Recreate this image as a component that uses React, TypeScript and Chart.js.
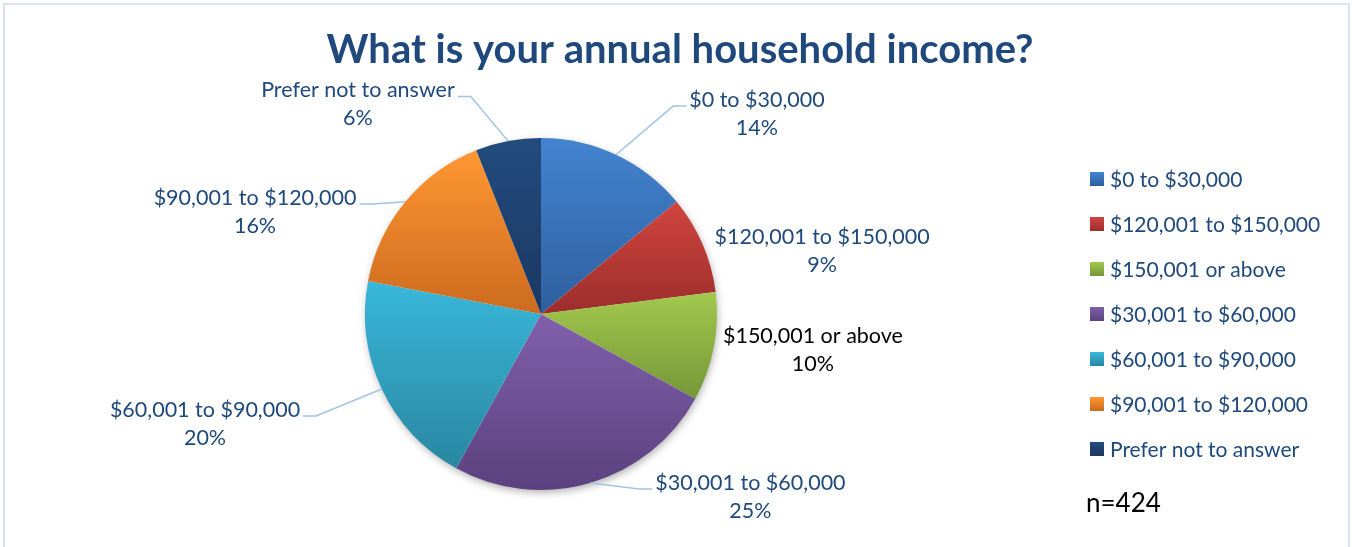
import React, { useEffect, useRef } from "react";
import { Chart, registerables } from "chart.js";

Chart.register(...registerables);

const chartTitle = "What is your annual household income?";
const categories = [
  "$0 to $30,000",
  "$120,001 to $150,000",
  "$150,001 or above",
  "$30,001 to $60,000",
  "$60,001 to $90,000",
  "$90,001 to $120,000",
  "Prefer not to answer",
];
const percentages = [14, 9, 10, 25, 20, 16, 6];
const sampleNote = "n=424";

const topColors = ["#4384D1", "#D1453F", "#A2C94D", "#8060AB", "#39B7DA", "#FF9733", "#234B7E"];
const bottomColors = ["#2E5F9D", "#9B2E2C", "#769639", "#5B417F", "#2987A1", "#CC6A1E", "#1A3862"];

const NAVY = "#1F497D";
const labelColors = [NAVY, NAVY, "#000000", NAVY, NAVY, NAVY, NAVY];
// label block centre offsets from the pie centre, in pie radii (layout only)
const labelOffsets: [number, number][] = [
  [1.227, -1.136],
  [1.597, -0.358],
  [1.545, 0.205],
  [1.19, 1.04],
  [-1.909, 0.625],
  [-1.625, -0.58],
  [-1.04, -1.19],
];
const leaderLines = [true, false, false, true, true, true, true];

const FONT = "Lato, 'Open Sans', sans-serif";

function sliceGradient(ctx: CanvasRenderingContext2D, cx: number, cy: number, r: number, i: number) {
  const total = percentages.reduce((a, b) => a + b, 0);
  let cum = 0;
  for (let k = 0; k < i; k++) cum += percentages[k];
  const a0 = -Math.PI / 2 + (cum / total) * Math.PI * 2;
  const a1 = a0 + (percentages[i] / total) * Math.PI * 2;
  const ys = [cy, cy + r * Math.sin(a0), cy + r * Math.sin(a1)];
  const inRange = (a: number) => {
    for (let t = -2; t <= 2; t++) {
      const v = a + t * Math.PI * 2;
      if (v >= a0 && v <= a1) return true;
    }
    return false;
  };
  if (inRange(Math.PI / 2)) ys.push(cy + r);
  if (inRange(-Math.PI / 2)) ys.push(cy - r);
  const y0 = Math.min(...ys);
  const y1 = Math.max(...ys);
  const g = ctx.createLinearGradient(0, y0, 0, Math.max(y1, y0 + 1));
  g.addColorStop(0, topColors[i]);
  g.addColorStop(1, bottomColors[i]);
  return g;
}

const decorPlugin = {
  id: "decor",
  beforeDatasetsDraw(chart: any) {
    const meta = chart.getDatasetMeta(0);
    const arc = meta.data[0];
    if (!arc) return;
    const ctx = chart.ctx as CanvasRenderingContext2D;
    ctx.save();
    ctx.shadowColor = "rgba(0,0,0,0.35)";
    ctx.shadowBlur = 9;
    ctx.shadowOffsetX = 1;
    ctx.shadowOffsetY = 3;
    ctx.fillStyle = "#ffffff";
    ctx.beginPath();
    ctx.arc(arc.x, arc.y, arc.outerRadius - 1, 0, Math.PI * 2);
    ctx.fill();
    ctx.restore();
  },
  afterDraw(chart: any) {
    const ctx = chart.ctx as CanvasRenderingContext2D;
    const W = chart.width;
    ctx.save();
    // outer border
    ctx.strokeStyle = "#D8E4F3";
    ctx.lineWidth = 2;
    ctx.strokeRect(4, 4, W - 7, chart.height + 20);

    // title
    ctx.fillStyle = NAVY;
    ctx.font = `bold 40px ${FONT}`;
    ctx.textAlign = "center";
    ctx.textBaseline = "middle";
    ctx.fillText(chartTitle, 680, 50);

    // data labels
    const meta = chart.getDatasetMeta(0);
    const total = percentages.reduce((a, b) => a + b, 0);
    ctx.font = `21.5px ${FONT}`;
    meta.data.forEach((arc: any, i: number) => {
      const r = arc.outerRadius;
      const bx = arc.x + labelOffsets[i][0] * r;
      const by = arc.y + labelOffsets[i][1] * r;
      const l1 = by - 14;
      const l2 = by + 14;
      const name = categories[i];
      const pct = Math.round((percentages[i] / total) * 100) + "%";
      const w1 = ctx.measureText(name).width;
      if (leaderLines[i]) {
        const mid = (arc.startAngle + arc.endAngle) / 2;
        const ex = arc.x + Math.cos(mid) * r;
        const ey = arc.y + Math.sin(mid) * r;
        const right = bx > arc.x;
        const tx = right ? bx - w1 / 2 - 3 : bx + w1 / 2 + 3;
        const kx = right ? tx - 13 : tx + 13;
        const ly = l1 + 6;
        ctx.strokeStyle = "#A3C2E8";
        ctx.lineWidth = 1.5;
        ctx.beginPath();
        ctx.moveTo(ex, ey);
        ctx.lineTo(kx, ly);
        ctx.lineTo(tx, ly);
        ctx.stroke();
      }
      ctx.fillStyle = labelColors[i];
      ctx.textAlign = "center";
      ctx.textBaseline = "middle";
      ctx.fillText(name, bx, l1);
      ctx.fillText(pct, bx, l2);
    });

    // legend
    ctx.font = `21px ${FONT}`;
    ctx.textAlign = "left";
    ctx.textBaseline = "middle";
    categories.forEach((c, i) => {
      const y = 179 + i * 45;
      const g = ctx.createLinearGradient(0, y - 7, 0, y + 7);
      g.addColorStop(0, topColors[i]);
      g.addColorStop(1, bottomColors[i]);
      ctx.fillStyle = g;
      ctx.fillRect(1090, y - 7, 14, 14);
      ctx.fillStyle = NAVY;
      ctx.fillText(c, 1110, y + 1);
    });

    // sample size
    ctx.fillStyle = "#000000";
    ctx.font = `26px ${FONT}`;
    ctx.fillText(sampleNote, 1086, 504);
    ctx.restore();
  },
};

export default function App() {
  const canvasRef = useRef<HTMLCanvasElement | null>(null);

  useEffect(() => {
    document.body.style.margin = "0";
    const canvas = canvasRef.current;
    if (!canvas) return;
    const chart = new Chart(canvas, {
      type: "pie",
      data: {
        labels: categories,
        datasets: [
          {
            data: percentages,
            borderWidth: 0,
            backgroundColor: (c: any) => {
              const ch = c.chart;
              const a = ch.chartArea;
              const i = c.dataIndex;
              if (!a || i === undefined) return topColors[i ?? 0];
              const cx = (a.left + a.right) / 2;
              const cy = (a.top + a.bottom) / 2;
              const r = Math.min(a.right - a.left, a.bottom - a.top) / 2;
              return sliceGradient(ch.ctx, cx, cy, r, i);
            },
          },
        ],
      },
      options: {
        animation: false,
        responsive: true,
        maintainAspectRatio: false,
        layout: { padding: { left: 365, right: 635, top: 138, bottom: 57 } },
        plugins: {
          legend: { display: false },
          title: { display: false },
          tooltip: { enabled: false },
        },
      },
      plugins: [decorPlugin],
    });
    return () => chart.destroy();
  }, []);

  return (
    <div style={{ position: "relative", width: 1352, height: 547, background: "#ffffff" }}>
      <canvas ref={canvasRef} />
    </div>
  );
}
